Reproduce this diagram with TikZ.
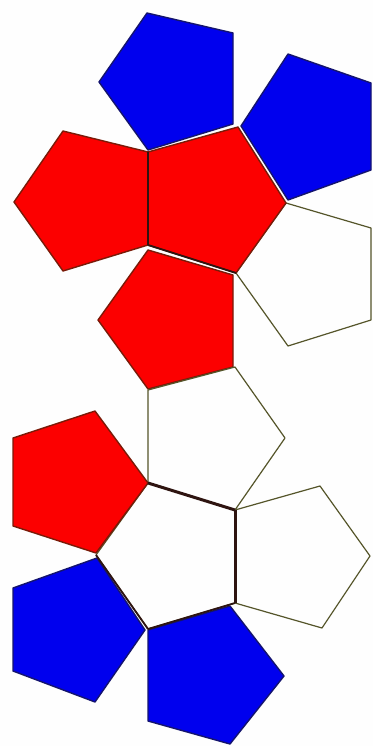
\documentclass[tikz,border=0pt]{standalone}
\usepackage{xcolor}
\definecolor{redface}{HTML}{FC0000}
\definecolor{blueface}{HTML}{0000EE}
\definecolor{redrim}{HTML}{7A1A08}
\definecolor{bluerim}{HTML}{14146E}
\definecolor{whiterim}{HTML}{55552A}
\definecolor{ink}{HTML}{2E1410}
\definecolor{paper}{HTML}{FEFEFE}
\tikzset{
  redfc/.style={fill=redface, draw=redrim, line width=1.4pt, line join=round},
  bluefc/.style={fill=blueface, draw=bluerim, line width=1.4pt, line join=round},
  openfc/.style={fill=paper, draw=whiterim, line width=1.2pt, line join=round},
  seam/.style={draw=ink, line width=1.3pt},
  thickseam/.style={draw=ink, line width=3pt}
}
\begin{document}
\begin{tikzpicture}[x=1pt,y=-1pt]
  \fill[paper] (0,0) rectangle (373,746);
  \useasboundingbox (0,0) rectangle (373,746);
  % faces of the upper cap
  \draw[bluefc] (148,150)--(233,124)--(233,33)--(147,13)--(99,82)--cycle;
  \draw[bluefc] (241,126)--(288,200)--(371,170)--(371,83)--(288,54)--cycle;
  \draw[openfc] (286,203)--(371,228)--(371,320)--(288,346)--(236,273)--cycle;
  \draw[redfc] (148,152)--(148,245)--(63,271)--(14,202)--(63,131)--cycle;
  \draw[redfc] (148,250)--(233,275)--(233,367)--(148,389)--(98,320)--cycle;
  \draw[redfc] (148,152)--(238,127)--(286,203)--(236,273)--(148,245)--cycle;
  % faces of the lower cap
  \draw[openfc] (148,390)--(235,367)--(285,438)--(235,510)--(148,483)--cycle;
  \draw[openfc] (235,510)--(320,486)--(370,556)--(322,628)--(235,603)--cycle;
  \draw[openfc] (148,483)--(235,510)--(235,603)--(148,629)--(96,555)--cycle;
  \draw[redfc] (148,483)--(96,553)--(13,526)--(13,438)--(95,411)--cycle;
  \draw[bluefc] (97,558)--(145,630)--(95,702)--(13,671)--(13,588)--cycle;
  \draw[bluefc] (148,630)--(230,606)--(284,676)--(230,744)--(148,721)--cycle;
  % heavier shared edges
  \coordinate (p1) at (148,152);
  \coordinate (p2) at (148,245);
  \coordinate (p3) at (236,273);
  \coordinate (p4) at (148,483);
  \coordinate (p5) at (235,510);
  \coordinate (p6) at (235,603);
  \coordinate (p7) at (96,555);
  \coordinate (p8) at (148,629);
  \draw[seam] (p1)--(p2);
  \draw[seam, line width=1.8pt] (p2)--(p3);
  \draw[thickseam] (p4)--(p5);
  \draw[thickseam] (p5)--(p6);
  \draw[seam, line width=1.8pt] (p7)--(p8);
  \draw[seam, line width=1.8pt] (p8)--(p6);
\end{tikzpicture}
\end{document}
